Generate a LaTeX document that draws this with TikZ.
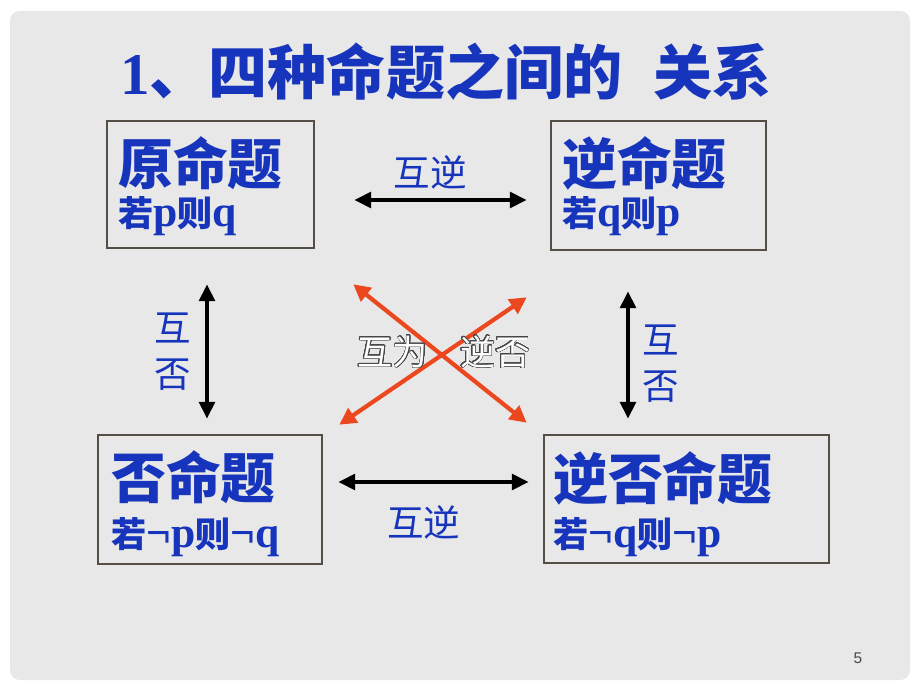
\documentclass[tikz,border=0pt]{standalone}
\usepackage{fontspec}
\setmainfont{Liberation Serif}
\setsansfont{Liberation Sans}
\newfontfamily\cjk{Noto Sans CJK SC}
\usepackage{contour}
\contourlength{0.45pt}
\contournumber{32}
\usetikzlibrary{arrows.meta,calc}

\definecolor{slideblue}{RGB}{22,52,188}
\definecolor{framegray}{RGB}{84,78,70}
\definecolor{slidebg}{RGB}{232,232,232}
\definecolor{crossred}{RGB}{236,72,32}
\definecolor{numgray}{RGB}{70,70,70}

\newcommand\px{0.025cm}
\newcommand\lat[1]{{\rmfamily\fontsize{31}{31}\selectfont #1}}

\tikzset{
  box/.style={draw=framegray, line width=1.8pt, inner sep=0pt},
  bigline/.style={font=\cjk\bfseries\fontsize{39}{39}\selectfont, text=slideblue, anchor=base west, inner sep=0pt},
  smallline/.style={font=\cjk\bfseries\fontsize{25}{25}\selectfont, text=slideblue, anchor=base west, inner sep=0pt},
  rel/.style={font=\cjk\fontsize{26}{33}\selectfont, text=slideblue, inner sep=0pt},
  pair/.style={{Triangle[length=12pt,width=11pt]}-{Triangle[length=12pt,width=11pt]}, line width=2.9pt},
  cross/.style={{Triangle[length=12pt,width=12pt]}-{Triangle[length=12pt,width=12pt]}, line width=3pt, crossred}
}

\begin{document}
\begin{tikzpicture}[x=0.025cm, y=-0.025cm]
  \useasboundingbox (0,0) rectangle (920,690);
  \fill[white] (0,0) rectangle (920,690);
  \fill[slidebg, rounded corners=7pt] (10,11) rectangle (910,680);

  \node[font=\cjk\bfseries\fontsize{42}{42}\selectfont, text=slideblue, anchor=base west, inner sep=0pt]
    (title) at (120,94) {{\rmfamily 1}、四种命题之间的\hspace{22pt}关系};

  % the four statements
  \node[box, minimum width=207*\px, minimum height=127*\px] (yuan) at (210.5,184.5) {};
  \node[box, minimum width=215*\px, minimum height=129*\px] (ni) at (658.5,185.5) {};
  \node[box, minimum width=224*\px, minimum height=129*\px] (fou) at (210,499.5) {};
  \node[box, minimum width=285*\px, minimum height=128*\px] (nifou) at (686.5,499) {};

  \node[bigline] (yuanA) at (118,184) {原命题};
  \node[smallline] (yuanB) at (118,226) {若\lat{p}则\lat{q}};
  \node[bigline] (niA) at (562,184) {逆命题};
  \node[smallline] (niB) at (562,226) {若\lat{q}则\lat{p}};
  \node[bigline] (fouA) at (111,498) {否命题};
  \node[smallline] (fouB) at (111,547) {若\lat{¬p}则\lat{¬q}};
  \node[bigline] (nifouA) at (553,499) {逆否命题};
  \node[smallline] (nifouB) at (553,547) {若\lat{¬q}则\lat{¬p}};

  % relations
  \draw[pair] ($(yuan.east)+(39,15.5)$) -- node[rel, above=6pt, pos=0.44] (topR) {互逆} ($(ni.west)+(-23,14.5)$);
  \draw[pair] ($(fou.east)+(15,-17.5)$) -- node[rel, below=15pt, pos=0.45] (botR) {互逆} ($(nifou.west)+(-14,-17)$);
  \draw[pair] ($(yuan.south)+(-3.5,35)$) -- node[rel, left=10pt, align=center] (leftR) {互\\否} ($(fou.north)+(-3,-15)$);
  \draw[pair] ($(ni.south)+(-30.5,40)$) -- node[rel, right=8.5pt, align=center, pos=0.57] (rightR) {互\\否} ($(nifou.north)+(-58.5,-15)$);

  \draw[cross] ($(yuan.south east)+(38,35)$) -- ($(nifou.north west)+(-16,-11)$);
  \draw[cross] ($(fou.north east)+(16,-9)$) -- ($(ni.south west)+(-23,46)$);
  \node[font=\cjk\fontsize{25}{25}\selectfont, text=white, inner sep=0pt]
    (crossR) at (444,352) {\contour{numgray}{互为\hspace{23pt}逆否}};

  \node[font=\sffamily\fontsize{11}{11}\selectfont, text=numgray] (pagenum) at (858,658) {5};
\end{tikzpicture}
\end{document}
